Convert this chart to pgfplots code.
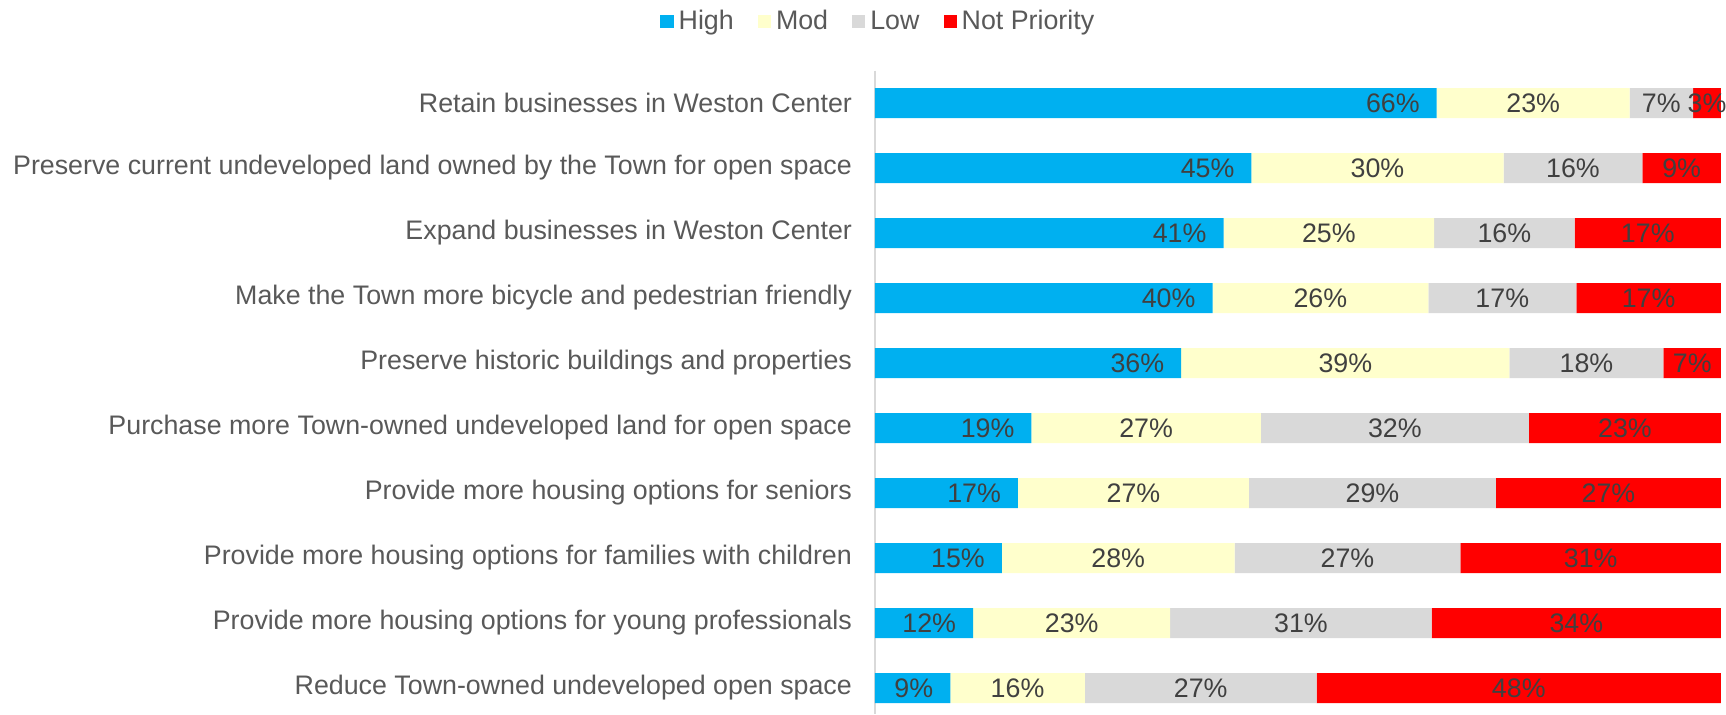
\documentclass[border=0pt]{standalone}
\usepackage{pgfplots}
\pgfplotsset{compat=1.18}
\usepackage{fontspec}
\setmainfont{Liberation Sans}
\definecolor{cHigh}{HTML}{00B0F0}
\definecolor{cMod}{HTML}{FFFFCC}
\definecolor{cLow}{HTML}{D9D9D9}
\definecolor{cNP}{HTML}{FF0000}
\definecolor{txt}{HTML}{595959}
\definecolor{lab}{HTML}{404040}

\begin{document}
\begin{tikzpicture}
\useasboundingbox (-437.5pt,0pt) rectangle (425.5pt,357pt);
\begin{axis}[
  at={(0,0)}, anchor=south west,
  scale only axis,
  xbar stacked, bar width=15pt,
  x=4.23pt, xmin=0, xmax=100,
  y=32.5pt, ymin=0.5, ymax=10.4, y dir=reverse,
  axis x line=none, axis y line*=left,
  y axis line style={draw=cLow, line width=0.9pt, -},
  ytick={1,...,10}, major tick length=0pt,
  yticklabels={
    Retain businesses in Weston Center,
    Preserve current undeveloped land owned by the Town for open space,
    Expand businesses in Weston Center,
    Make the Town more bicycle and pedestrian friendly,
    Preserve historic buildings and properties,
    Purchase more Town-owned undeveloped land for open space,
    Provide more housing options for seniors,
    Provide more housing options for families with children,
    Provide more housing options for young professionals,
    Reduce Town-owned undeveloped open space},
  yticklabel style={font=\fontsize{13.4}{15}\selectfont, text=txt, xshift=-8pt},
  point meta=explicit symbolic,
  visualization depends on={rawx \as \rawx},
  nodes near coords={\pgfplotspointmeta\%},
  nodes near coords style={font=\fontsize{13.4}{15}\selectfont, text=lab, anchor=center},
  legend columns=-1,
  legend style={at={(0.004,1)}, anchor=center, yshift=24.5pt, draw=none,
    font=\fontsize{13.4}{15}\selectfont, text=txt, nodes={inner sep=1pt},
    /tikz/every odd column/.append style={column sep=1.5pt},
    /tikz/every even column/.append style={column sep=11pt}},
  legend image code/.code={\fill[#1] (0pt,-3.3pt) rectangle (6.6pt,3.3pt);},
]
\addplot[fill=cHigh, draw=none,
  every node near coord/.append style={anchor=east, xshift={0.5*\rawx*4.23pt-5pt}}]
  coordinates {(66.4,1) [66] (44.5,2) [45] (41.2,3) [41] (39.9,4) [40] (36.2,5) [36]
               (18.5,6) [19] (16.9,7) [17] (15.0,8) [15] (11.6,9) [12] (8.9,10) [9]};
\addplot[fill=cMod, draw=none]
  coordinates {(22.8,1) [23] (29.8,2) [30] (24.9,3) [25] (25.5,4) [26] (38.8,5) [39]
               (27.1,6) [27] (27.3,7) [27] (27.5,8) [28] (23.3,9) [23] (15.9,10) [16]};
\addplot[fill=cLow, draw=none]
  coordinates {(7.5,1) [7] (16.4,2) [16] (16.6,3) [16] (17.5,4) [17] (18.2,5) [18]
               (31.7,6) [32] (29.2,7) [29] (26.7,8) [27] (30.9,9) [31] (27.4,10) [27]};
\addplot[fill=cNP, draw=none]
  coordinates {(3.3,1) [3] (9.3,2) [9] (17.3,3) [17] (17.1,4) [17] (6.8,5) [7]
               (22.7,6) [23] (26.6,7) [27] (30.8,8) [31] (34.2,9) [34] (47.8,10) [48]};
\legend{High, Mod, Low, Not Priority}
\end{axis}
\end{tikzpicture}
\end{document}
